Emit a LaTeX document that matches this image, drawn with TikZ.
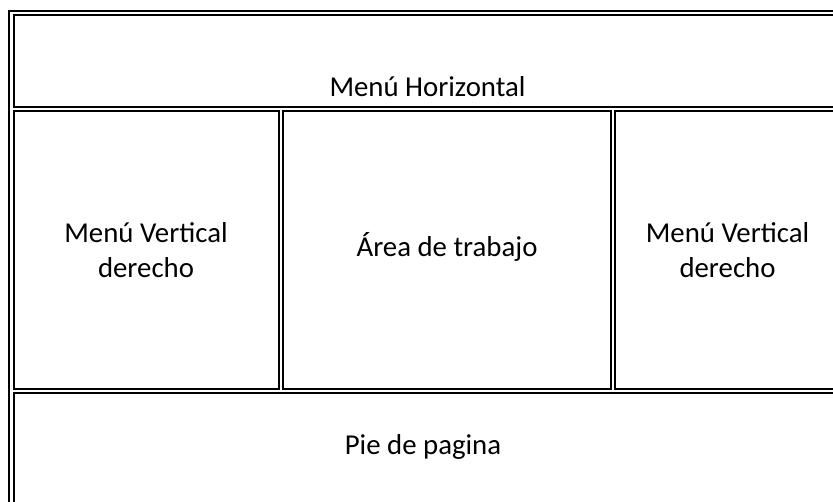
\documentclass[tikz,border=0pt]{standalone}
\usepackage{fontspec}
\setmainfont{Carlito}
\begin{document}
\begin{tikzpicture}[x=0.75pt,y=-0.75pt,
  cell/.style={draw=black,line width=1.5pt},
  lbl/.style={font=\fontsize{21.6pt}{26.25pt}\selectfont,inner sep=0pt,align=center}]
\useasboundingbox (0,0) rectangle (833,502);
\clip (0,0) rectangle (833,502);
\fill[white] (0,0) rectangle (833,502);
% outer table border
\draw[cell] (9,11.5) rectangle (900,560);
% cells
\draw[cell] (13.5,15) rectangle (847,107);
\draw[cell] (13.5,111) rectangle (279,389);
\draw[cell] (283,111) rectangle (611,389);
\draw[cell] (615,111) rectangle (845,389);
\draw[cell] (13.5,393) rectangle (850,540);
% texts
\node[lbl,anchor=base] (hdr) at (427.5,96.7) {Menú Horizontal};
\node[lbl,anchor=center] (lv) at (146,250) {Menú Vertical\\derecho};
\node[lbl,anchor=base] (mid) at (447,256.7) {Área de trabajo};
\node[lbl,anchor=center] (rv) at (727.5,250) {Menú Vertical\\derecho};
\node[lbl,anchor=base] (ftr) at (423,455) {Pie de pagina};
\end{tikzpicture}
\end{document}
